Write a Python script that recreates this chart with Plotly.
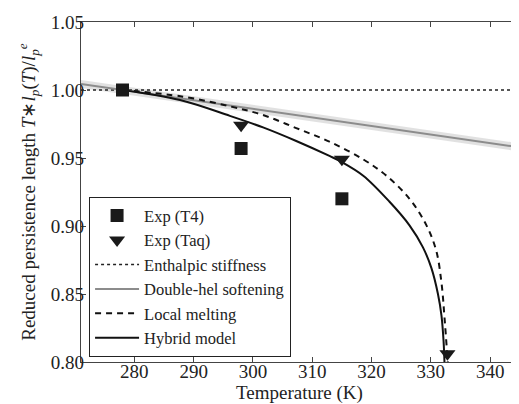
import plotly.graph_objects as go

# Experimental data
t4_T = [278, 298, 315]
t4_y = [1.000, 0.957, 0.920]
taq_T = [298, 315, 332.8]
taq_y = [0.974, 0.949, 0.806]

# Enthalpic stiffness
enth_T = [271, 344.7]
enth_y = [1.0, 1.0]

# Double-helix softening (line + uncertainty band)
dh_T = [271, 344.7]
dh_y = [1.0044, 0.958]
dh_hi = [1.0074, 0.961]
dh_lo = [1.0014, 0.955]

# Local melting
lm_T = [278, 288.2, 296.1, 301.7, 307.3, 312.9, 318.6, 322.5, 326.4, 329.2, 330.9, 331.8, 332.3, 332.85]
lm_y = [1.000, 0.9951, 0.988, 0.9816, 0.972, 0.962, 0.949, 0.937, 0.920, 0.901, 0.882, 0.858, 0.833, 0.800]

# Hybrid model
hy_T = [278, 287.7, 296.1, 301.7, 307.3, 312.9, 315.0, 318.6, 323.0, 326.4, 328.65, 330.1, 331.2, 331.8, 332.15, 332.3]
hy_y = [1.000, 0.9926, 0.981, 0.9725, 0.9625, 0.9515, 0.947, 0.937, 0.918, 0.9005, 0.8845, 0.869, 0.850, 0.834, 0.815, 0.800]

SERIF = "Liberation Serif"
INK = "#222"

fig = go.Figure()

fig.add_trace(go.Scatter(x=dh_T, y=dh_hi, mode="lines", line=dict(width=0, color="rgba(0,0,0,0)"),
                         showlegend=False, hoverinfo="skip"))
fig.add_trace(go.Scatter(x=dh_T, y=dh_lo, mode="lines", line=dict(width=0, color="rgba(0,0,0,0)"),
                         fill="tonexty", fillcolor="rgba(200,200,200,0.55)", showlegend=False, hoverinfo="skip"))

fig.add_trace(go.Scatter(x=enth_T, y=enth_y, mode="lines", name="Enthalpic stiffness",
                         line=dict(color="#222", width=1.5, dash="dot"), legendrank=3))
fig.add_trace(go.Scatter(x=dh_T, y=dh_y, mode="lines", name="Double-hel softening",
                         line=dict(color="#8c8c8c", width=2), legendrank=4))
fig.add_trace(go.Scatter(x=lm_T, y=lm_y, mode="lines", name="Local melting", line_shape="spline",
                         line=dict(color="#111", width=2, dash="6px,5px"), legendrank=5))
fig.add_trace(go.Scatter(x=hy_T, y=hy_y, mode="lines", name="Hybrid model", line_shape="spline",
                         line=dict(color="#111", width=2), legendrank=6))

fig.add_trace(go.Scatter(x=t4_T, y=t4_y, mode="markers", name="Exp (T4)",
                         marker=dict(symbol="square", size=13, color="#1a1a1a"), legendrank=1))
fig.add_trace(go.Scatter(x=taq_T, y=taq_y, mode="markers", name="Exp (Taq)",
                         marker=dict(symbol="triangle-down", size=14, color="#1a1a1a"), legendrank=2))

axis_common = dict(showline=True, linecolor="#444", linewidth=1.2, mirror="ticks",
                   ticks="inside", ticklen=5, tickcolor="#444", showgrid=False, zeroline=False,
                   ticklabelstandoff=-8,
                   tickfont=dict(family=SERIF, size=19, color=INK))

fig.update_xaxes(range=[271, 344.7], tickvals=[280, 290, 300, 310, 320, 330, 340],
                 title=dict(text="Temperature (K)", font=dict(family=SERIF, size=19, color=INK),
                            standoff=2), **axis_common)
fig.update_yaxes(range=[0.8, 1.05], tickvals=[0.80, 0.85, 0.90, 0.95, 1.00, 1.05], tickformat=".2f",
                 title=dict(text="Reduced persistence length <i>T</i>∗<i>l</i><sub><i>p</i></sub>(<i>T</i>)/<i>l</i><sub><i>p</i></sub><sup><i>e</i></sup>",
                            font=dict(family=SERIF, size=19, color=INK), standoff=10),
                 **axis_common)

fig.update_layout(
    width=511, height=396,
    margin=dict(l=73, r=1, t=14, b=42),
    paper_bgcolor="white", plot_bgcolor="white",
    font=dict(family=SERIF, color=INK),
    legend=dict(x=0.018, y=0.485, xanchor="left", yanchor="top", traceorder="normal",
                bordercolor="#222", borderwidth=1.2, bgcolor="white",
                font=dict(family=SERIF, size=16.5, color=INK),
                itemwidth=44, tracegroupgap=0),
    showlegend=True,
)

fig.write_html("out.html")
